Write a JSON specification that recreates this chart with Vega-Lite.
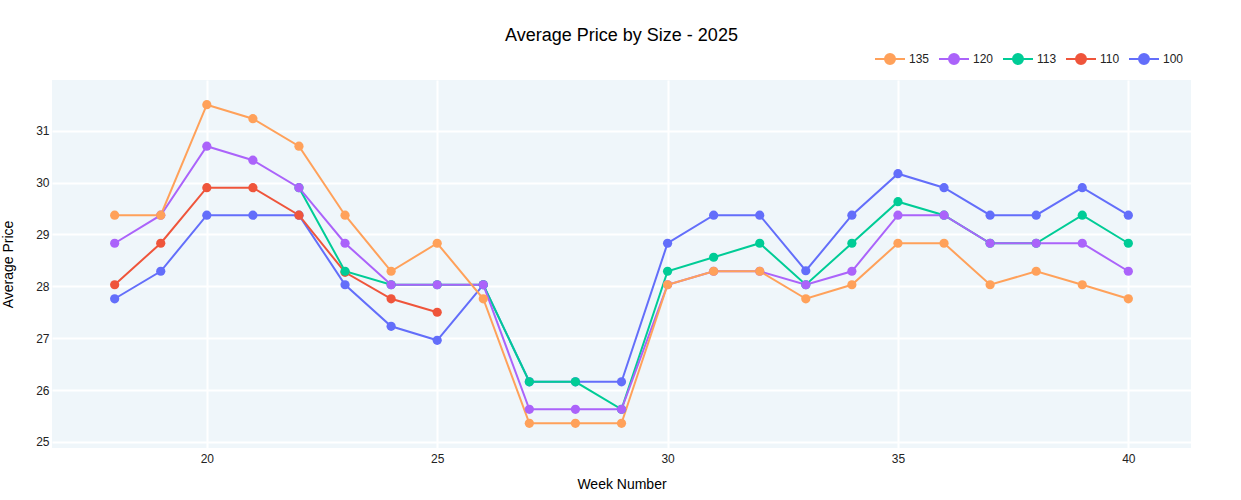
{
  "$schema": "https://vega.github.io/schema/vega-lite/v6.json",
  "width": 1139,
  "height": 368,
  "autosize": {"type": "none"},
  "padding": {"left": 52, "top": 80, "right": 50, "bottom": 52},
  "background": "white",
  "title": {"text": "Average Price by Size - 2025", "fontSize": 18, "font": "Liberation Sans", "fontWeight": "normal", "color": "#000000", "anchor": "middle", "offset": 8},
  "config": {
    "view": {"fill": "#EFF6FA", "stroke": null},
    "font": "Liberation Sans",
    "axis": {"grid": true, "gridColor": "#FFFFFF", "gridWidth": 2, "gridOpacity": 1, "domain": false, "ticks": false, "labelFont": "Liberation Sans", "labelFontSize": 12, "labelColor": "#222222", "titleFont": "Liberation Sans", "titleFontSize": 14, "titleFontWeight": "normal", "titleColor": "#000000"}
  },
  "data": {"values": [
    {"week": 18, "size": "100", "price": 27.76},
    {"week": 19, "size": "100", "price": 28.29},
    {"week": 20, "size": "100", "price": 29.37},
    {"week": 21, "size": "100", "price": 29.37},
    {"week": 22, "size": "100", "price": 29.37},
    {"week": 23, "size": "100", "price": 28.03},
    {"week": 24, "size": "100", "price": 27.23},
    {"week": 25, "size": "100", "price": 26.96},
    {"week": 26, "size": "100", "price": 28.03},
    {"week": 27, "size": "100", "price": 26.16},
    {"week": 28, "size": "100", "price": 26.16},
    {"week": 29, "size": "100", "price": 26.16},
    {"week": 30, "size": "100", "price": 28.83},
    {"week": 31, "size": "100", "price": 29.37},
    {"week": 32, "size": "100", "price": 29.37},
    {"week": 33, "size": "100", "price": 28.3},
    {"week": 34, "size": "100", "price": 29.37},
    {"week": 35, "size": "100", "price": 30.17},
    {"week": 36, "size": "100", "price": 29.9},
    {"week": 37, "size": "100", "price": 29.37},
    {"week": 38, "size": "100", "price": 29.37},
    {"week": 39, "size": "100", "price": 29.9},
    {"week": 40, "size": "100", "price": 29.37},
    {"week": 18, "size": "110", "price": 28.03},
    {"week": 19, "size": "110", "price": 28.83},
    {"week": 20, "size": "110", "price": 29.9},
    {"week": 21, "size": "110", "price": 29.9},
    {"week": 22, "size": "110", "price": 29.37},
    {"week": 23, "size": "110", "price": 28.27},
    {"week": 24, "size": "110", "price": 27.76},
    {"week": 25, "size": "110", "price": 27.5},
    {"week": 22, "size": "113", "price": 29.9},
    {"week": 23, "size": "113", "price": 28.29},
    {"week": 24, "size": "113", "price": 28.03},
    {"week": 25, "size": "113", "price": 28.03},
    {"week": 26, "size": "113", "price": 28.03},
    {"week": 27, "size": "113", "price": 26.16},
    {"week": 28, "size": "113", "price": 26.16},
    {"week": 29, "size": "113", "price": 25.63},
    {"week": 30, "size": "113", "price": 28.29},
    {"week": 31, "size": "113", "price": 28.56},
    {"week": 32, "size": "113", "price": 28.83},
    {"week": 33, "size": "113", "price": 28.03},
    {"week": 34, "size": "113", "price": 28.83},
    {"week": 35, "size": "113", "price": 29.63},
    {"week": 36, "size": "113", "price": 29.37},
    {"week": 37, "size": "113", "price": 28.83},
    {"week": 38, "size": "113", "price": 28.83},
    {"week": 39, "size": "113", "price": 29.37},
    {"week": 40, "size": "113", "price": 28.83},
    {"week": 18, "size": "120", "price": 28.83},
    {"week": 19, "size": "120", "price": 29.37},
    {"week": 20, "size": "120", "price": 30.7},
    {"week": 21, "size": "120", "price": 30.43},
    {"week": 22, "size": "120", "price": 29.9},
    {"week": 23, "size": "120", "price": 28.83},
    {"week": 24, "size": "120", "price": 28.03},
    {"week": 25, "size": "120", "price": 28.03},
    {"week": 26, "size": "120", "price": 28.03},
    {"week": 27, "size": "120", "price": 25.63},
    {"week": 28, "size": "120", "price": 25.63},
    {"week": 29, "size": "120", "price": 25.63},
    {"week": 30, "size": "120", "price": 28.03},
    {"week": 31, "size": "120", "price": 28.29},
    {"week": 32, "size": "120", "price": 28.29},
    {"week": 33, "size": "120", "price": 28.03},
    {"week": 34, "size": "120", "price": 28.29},
    {"week": 35, "size": "120", "price": 29.37},
    {"week": 36, "size": "120", "price": 29.37},
    {"week": 37, "size": "120", "price": 28.83},
    {"week": 38, "size": "120", "price": 28.83},
    {"week": 39, "size": "120", "price": 28.83},
    {"week": 40, "size": "120", "price": 28.29},
    {"week": 18, "size": "135", "price": 29.37},
    {"week": 19, "size": "135", "price": 29.37},
    {"week": 20, "size": "135", "price": 31.5},
    {"week": 21, "size": "135", "price": 31.23},
    {"week": 22, "size": "135", "price": 30.7},
    {"week": 23, "size": "135", "price": 29.37},
    {"week": 24, "size": "135", "price": 28.29},
    {"week": 25, "size": "135", "price": 28.83},
    {"week": 26, "size": "135", "price": 27.76},
    {"week": 27, "size": "135", "price": 25.36},
    {"week": 28, "size": "135", "price": 25.36},
    {"week": 29, "size": "135", "price": 25.36},
    {"week": 30, "size": "135", "price": 28.03},
    {"week": 31, "size": "135", "price": 28.29},
    {"week": 32, "size": "135", "price": 28.29},
    {"week": 33, "size": "135", "price": 27.76},
    {"week": 34, "size": "135", "price": 28.03},
    {"week": 35, "size": "135", "price": 28.83},
    {"week": 36, "size": "135", "price": 28.83},
    {"week": 37, "size": "135", "price": 28.03},
    {"week": 38, "size": "135", "price": 28.29},
    {"week": 39, "size": "135", "price": 28.03},
    {"week": 40, "size": "135", "price": 27.76}
  ]},
  "encoding": {
    "x": {"field": "week", "type": "quantitative", "scale": {"domain": [16.64, 41.36], "nice": false, "zero": false}, "axis": {"values": [20, 25, 30, 35, 40], "title": "Week Number", "labelPadding": 5, "titlePadding": 13}},
    "y": {"field": "price", "type": "quantitative", "scale": {"domain": [24.884, 31.976], "nice": false, "zero": false}, "axis": {"values": [25, 26, 27, 28, 29, 30, 31], "title": "Average Price", "labelPadding": 3, "titlePadding": 20}},
    "color": {"field": "size", "type": "nominal", "title": null,
      "scale": {"domain": ["135", "120", "113", "110", "100"], "range": ["#FFA15A", "#AB63FA", "#00CC96", "#EF553B", "#636EFA"]},
      "legend": {"orient": "none", "legendX": 832, "legendY": -27, "direction": "horizontal", "symbolType": "M-3,0L3,0M-1,0A1,1,0,1,1,1,0A1,1,0,1,1,-1,0Z", "symbolSize": 100, "symbolStrokeWidth": 2, "labelOffset": 13, "columnPadding": 5, "labelFontSize": 12, "labelFont": "Liberation Sans", "labelColor": "#222222", "padding": 0,
        "encode": {"symbols": {"update": {"fill": {"scale": "color", "field": "value"}, "stroke": {"scale": "color", "field": "value"}, "strokeWidth": {"value": 2}, "opacity": {"value": 1}, "fillOpacity": {"value": 1}}}}}
    }
  },
  "layer": [
    {"mark": {"type": "line", "strokeWidth": 2}},
    {"mark": {"type": "circle", "size": 85, "opacity": 1}}
  ]
}
